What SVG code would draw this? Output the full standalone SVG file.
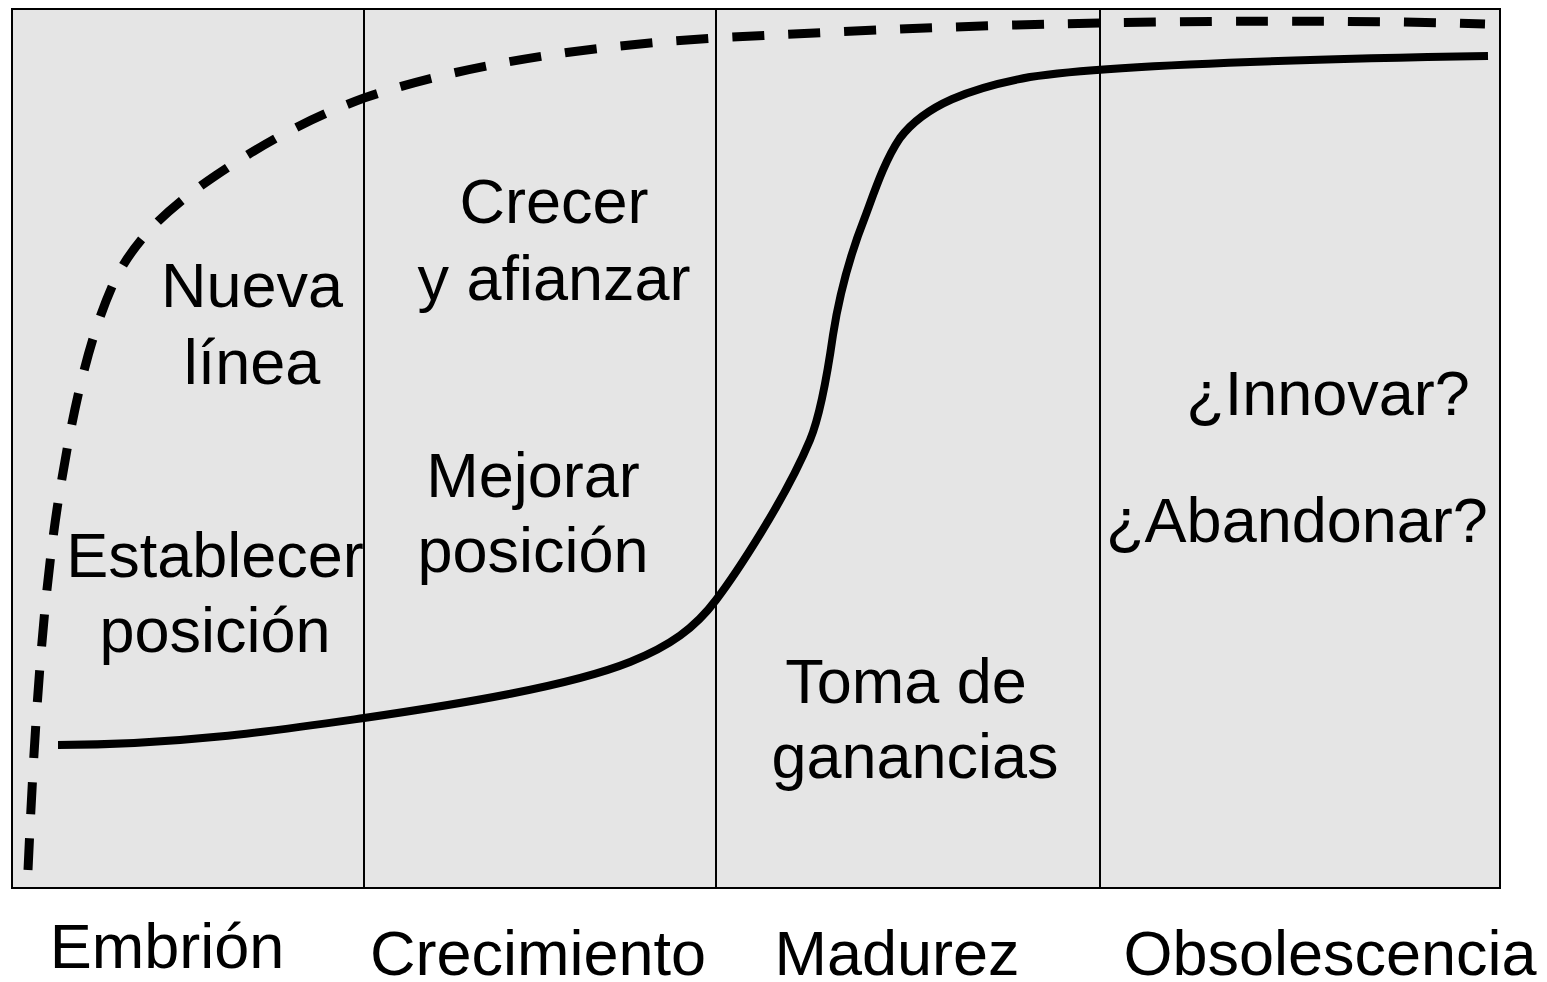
<svg xmlns="http://www.w3.org/2000/svg" width="1547" height="982" viewBox="0 0 1547 982">
<style>
text{font-family:"Liberation Sans",Arial,sans-serif;font-size:63px;fill:#000;text-anchor:middle}
.frame{fill:#e5e5e5;stroke:#000;stroke-width:2}
.div{stroke:#000;stroke-width:2;fill:none}
.solid{fill:none;stroke:#000;stroke-width:8;stroke-linecap:butt}
.dash{fill:none;stroke:#000;stroke-width:9;stroke-dasharray:32 24}
</style>
<rect fill="#fff" width="1547" height="982"/>
<g id="chart">
<rect class="frame" x="12" y="9" width="1488" height="879"/>
<line class="div" x1="364" y1="9" x2="364" y2="888"/>
<line class="div" x1="716" y1="9" x2="716" y2="888"/>
<line class="div" x1="1100" y1="9" x2="1100" y2="888"/>
</g>
<g id="curves">
<path class="dash" d="M28,870 C34,740 42,600 60,490 C70,430 85,345 115,280 C135,240 165,210 215,176 C265,142 310,118 364,98 C470,62 600,45 716,38 C900,28 1000,25 1100,23 C1250,20 1400,21 1485,24"/>
<path class="solid" d="M58,745 C180,745 280,730 364,718 C460,704 570,686 630,662 C670,646 695,628 716,600 C735,575 785,500 810,440 C820,416 828,370 833,335 C840,290 850,255 865,217 C875,190 885,160 900,138 C925,105 970,88 1030,77 C1100,66 1250,60 1488,56"/>
</g>
<g id="labels-embrion">
<text x="252" y="307">Nueva</text>
<text x="252" y="384">línea</text>
<text x="215" y="577">Establecer</text>
<text x="215" y="652">posición</text>
</g>
<g id="labels-crecimiento">
<text x="554" y="223">Crecer</text>
<text x="554" y="300">y afianzar</text>
<text x="533" y="497">Mejorar</text>
<text x="533" y="572">posición</text>
</g>
<g id="labels-madurez">
<text x="906" y="703">Toma de</text>
<text x="915" y="778">ganancias</text>
</g>
<g id="labels-obsolescencia">
<text x="1328" y="415">¿Innovar?</text>
<text x="1297" y="542">¿Abandonar?</text>
</g>
<g id="stages">
<text x="167" y="968">Embrión</text>
<text x="538" y="975">Crecimiento</text>
<text x="897" y="975">Madurez</text>
<text x="1330" y="975">Obsolescencia</text>
</g>
</svg>
